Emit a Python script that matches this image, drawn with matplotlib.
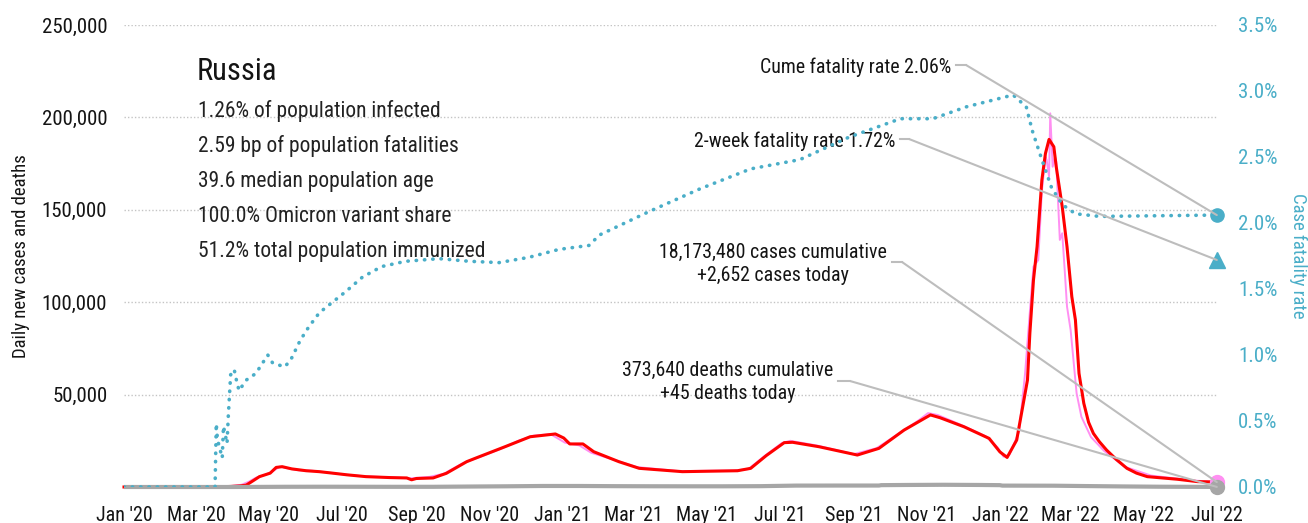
import matplotlib
matplotlib.use("Agg")
import matplotlib.pyplot as plt
import matplotlib.dates as mdates
from matplotlib.patches import ConnectionPatch
from matplotlib.ticker import FuncFormatter, FixedLocator
import pandas as pd

FONT = ['Roboto Condensed', 'Liberation Sans Narrow', 'DejaVu Sans']
plt.rcParams['font.family'] = FONT

# ---- data ---------------------------------------------------------------
avg_dates = ["2020-01-01", "2020-03-15", "2020-03-30", "2020-04-07", "2020-04-12", "2020-04-18",
             "2020-04-23", "2020-05-02", "2020-05-07", "2020-05-12", "2020-05-20", "2020-06-01",
             "2020-06-12", "2020-06-23", "2020-07-05", "2020-07-21", "2020-08-10", "2020-08-24",
             "2020-08-28", "2020-09-01", "2020-09-15", "2020-09-26", "2020-10-13", "2020-10-20",
             "2020-11-14", "2020-12-05", "2020-12-26", "2021-01-02", "2021-01-07", "2021-01-18",
             "2021-01-27", "2021-02-17", "2021-03-06", "2021-04-11", "2021-05-27", "2021-06-07",
             "2021-06-20", "2021-07-05", "2021-07-12", "2021-08-03", "2021-09-04", "2021-09-22",
             "2021-10-13", "2021-11-04", "2021-11-12", "2021-12-02", "2021-12-23", "2022-01-01",
             "2022-01-07", "2022-01-15", "2022-01-21", "2022-01-24", "2022-01-26", "2022-01-29",
             "2022-02-01", "2022-02-05", "2022-02-08", "2022-02-11", "2022-02-15", "2022-02-17",
             "2022-02-22", "2022-02-26", "2022-03-02", "2022-03-05", "2022-03-08", "2022-03-12",
             "2022-03-16", "2022-03-20", "2022-03-25", "2022-03-31", "2022-04-08", "2022-04-17",
             "2022-04-25", "2022-05-04", "2022-05-29", "2022-06-15", "2022-07-01"]
avg_cases = [0, 0, 300, 600, 1000, 3500,
             5600, 7500, 10600, 11000, 9800, 8800,
             8300, 7500, 6600, 5600, 5100, 4900,
             3900, 4600, 4900, 7400, 13700, 15500,
             21800, 27200, 28700, 26500, 23300, 23300,
             19100, 13700, 10100, 8300, 8800, 10100,
             17000, 24000, 24200, 21800, 17300, 20900,
             30800, 39000, 37500, 32600, 26300, 19000,
             16000, 25400, 47000, 57900, 83300, 112000,
             130000, 166100, 180500, 188100, 184100, 173300,
             151700, 130000, 103000, 90400, 61500, 45300,
             35000, 29000, 24500, 20000, 15000, 10100,
             7500, 5600, 4200, 2900, 2700]

daily_dates = ["2020-01-01", "2020-03-15", "2020-03-30", "2020-04-08", "2020-04-14", "2020-04-20",
               "2020-04-28", "2020-05-04", "2020-05-10", "2020-05-16", "2020-05-26", "2020-06-06",
               "2020-06-20", "2020-07-03", "2020-07-20", "2020-08-10", "2020-08-27", "2020-09-12",
               "2020-09-24", "2020-10-10", "2020-10-25", "2020-11-10", "2020-11-25", "2020-12-08",
               "2020-12-22", "2021-01-03", "2021-01-15", "2021-01-25", "2021-02-14", "2021-03-04",
               "2021-04-08", "2021-05-24", "2021-06-05", "2021-06-18", "2021-07-03", "2021-07-10",
               "2021-08-01", "2021-09-01", "2021-09-20", "2021-10-10", "2021-10-25", "2021-11-02",
               "2021-11-10", "2021-11-30", "2021-12-20", "2021-12-30", "2022-01-04", "2022-01-09",
               "2022-01-17", "2022-01-22", "2022-01-26", "2022-01-29", "2022-02-02", "2022-02-05",
               "2022-02-08", "2022-02-09", "2022-02-11", "2022-02-12", "2022-02-14", "2022-02-16",
               "2022-02-17", "2022-02-20", "2022-02-22", "2022-02-24", "2022-02-26", "2022-03-01",
               "2022-03-06", "2022-03-10", "2022-03-18", "2022-03-29", "2022-04-15", "2022-05-07",
               "2022-06-10", "2022-07-01"]
daily_cases = [0, 0, 500, 1200, 2800, 5000,
               6600, 8500, 11000, 10200, 9000, 8800,
               7800, 6700, 5800, 5200, 4700, 5500,
               7200, 13000, 16500, 20500, 25000, 27800,
               28600, 24000, 22500, 18500, 14500, 10800,
               8600, 8900, 9700, 16500, 23800, 25000,
               22500, 17800, 21000, 29500, 36000, 40000,
               39000, 33500, 27500, 21500, 16400, 17500,
               30000, 61500, 95000, 119200, 122800, 160000,
               178700, 176900, 168000, 202200, 173300, 178700,
               176000, 133700, 137300, 118000, 97600, 85000,
               50700, 38000, 27000, 19500, 11000, 6200,
               3600, 2652]

death_dates = ["2020-01-01", "2020-04-01", "2020-04-20", "2020-05-15", "2020-06-15", "2020-07-15",
               "2020-08-15", "2020-09-15", "2020-10-15", "2020-11-15", "2020-12-15", "2021-01-15",
               "2021-02-15", "2021-03-15", "2021-04-15", "2021-05-15", "2021-06-15", "2021-07-15",
               "2021-08-15", "2021-09-22", "2021-09-24", "2021-10-15", "2021-11-15", "2021-12-15",
               "2022-01-01", "2022-01-03", "2022-02-15", "2022-03-15", "2022-04-15", "2022-05-15",
               "2022-06-15", "2022-07-01"]
daily_deaths = [0, 5, 50, 120, 150, 130,
                100, 110, 250, 380, 550, 550,
                450, 400, 380, 380, 450, 760,
                780, 790, 1000, 1100, 1200, 1100,
                1000, 750, 700, 500, 300, 150,
                80, 45]

cfr_dates = ["2020-01-01", "2020-03-17", "2020-03-18", "2020-03-19", "2020-03-23", "2020-03-24",
             "2020-03-27", "2020-03-28", "2020-03-30", "2020-04-02", "2020-04-03", "2020-04-06",
             "2020-04-12", "2020-04-20", "2020-04-30", "2020-05-04", "2020-05-14", "2020-05-19",
             "2020-05-27", "2020-06-03", "2020-06-12", "2020-06-23", "2020-07-04", "2020-07-18",
             "2020-08-03", "2020-08-23", "2020-09-20", "2020-10-15", "2020-11-09", "2020-12-04",
             "2020-12-29", "2021-01-23", "2021-02-01", "2021-03-15", "2021-04-26", "2021-06-07",
             "2021-07-18", "2021-08-28", "2021-10-10", "2021-11-06", "2021-12-04", "2022-01-12",
             "2022-01-23", "2022-01-28", "2022-02-05", "2022-02-13", "2022-02-22", "2022-03-05",
             "2022-03-25", "2022-07-01"]
cfr_pct = [0.0, 0.0, 0.48, 0.36, 0.22, 0.46,
           0.33, 0.53, 0.85, 0.89, 0.84, 0.73,
           0.81, 0.86, 1.00, 0.94, 0.91, 0.96,
           1.11, 1.21, 1.32, 1.40, 1.48, 1.59,
           1.67, 1.71, 1.73, 1.71, 1.70, 1.74,
           1.80, 1.83, 1.91, 2.09, 2.26, 2.41,
           2.48, 2.65, 2.79, 2.79, 2.88, 2.97,
           2.88, 2.70, 2.48, 2.27, 2.14, 2.07,
           2.05, 2.06]

cume_cfr = 2.06
two_week_cfr = 1.72
cases_today = 2652
deaths_today = 45
cases_total = 18173480
deaths_total = 373640
last_day = "2022-07-01"

left_ticks = [50000, 100000, 150000, 200000, 250000]
right_ticks = [0.0, 0.5, 1.0, 1.5, 2.0, 2.5, 3.0, 3.5]

country = "Russia"
stats_lines = ["1.26% of population infected",
               "2.59 bp of population fatalities",
               "39.6 median population age",
               "100.0% Omicron variant share",
               "51.2% total population immunized"]

# ---- styling ------------------------------------------------------------
TEAL = '#4aaec8'
RED = '#ff0000'
PINK = '#ff8ff2'
GREY = '#a6a6a6'
LINE_GREY = '#bdbdbd'
GRID = '#c4c4c4'
INK = '#141414'

W, H = 1308, 523
fig = plt.figure(figsize=(W / 100, H / 100), dpi=100)
L, R, B, T = 124, 1218, 487, 25
ax = fig.add_axes([L / W, 1 - B / H, (R - L) / W, (B - T) / H])
ax2 = ax.twinx()

to_dt = pd.to_datetime
ax.set_xlim(to_dt("2020-01-01"), to_dt("2022-07-02"))
ax.set_ylim(0, 250000)
ax2.set_ylim(0, 3.5)

# horizontal grid
for v in [0] + left_ticks:
    ax.axhline(v, color=GRID, lw=1.0, ls=(0, (1, 1.5)), zorder=0)

# series
ax.plot(to_dt(daily_dates), daily_cases, color=PINK, lw=1.4, zorder=3, clip_on=False)
ax.plot(to_dt(avg_dates), avg_cases, color=RED, lw=2.2, zorder=4, clip_on=False)
ax.plot(to_dt(death_dates), daily_deaths, color=GREY, lw=3.0, zorder=5, clip_on=False,
        solid_capstyle='butt')
ax2.plot(to_dt(cfr_dates), cfr_pct, color=TEAL, lw=2.6, ls=(0, (0.1, 2.2)),
         dash_capstyle='round', zorder=3)

# end-of-series markers
end = to_dt(last_day)
ax.plot([end], [cases_today], 'o', ms=10, color=PINK, zorder=6, clip_on=False)
ax.plot([end], [deaths_today], 'o', ms=10, color=GREY, zorder=7, clip_on=False)
ax2.plot([end], [cume_cfr], 'o', ms=9.5, color=TEAL, zorder=6, clip_on=False)
ax2.plot([end], [two_week_cfr], '^', ms=11, color=TEAL, zorder=6, clip_on=False)

# axes cosmetics
for a in (ax, ax2):
    for s in a.spines.values():
        s.set_visible(False)
ax.xaxis.set_major_locator(mdates.MonthLocator(bymonth=[1, 3, 5, 7, 9, 11]))
ax.xaxis.set_major_formatter(mdates.DateFormatter("%b '%y"))
ax.tick_params(axis='x', length=0, pad=14, labelsize=14.5, labelcolor=INK)
ax.yaxis.set_major_locator(FixedLocator(left_ticks))
ax.yaxis.set_major_formatter(FuncFormatter(lambda v, p: f"{int(v):,}"))
ax.tick_params(axis='y', length=0, pad=12, labelsize=15, labelcolor=INK)
ax2.yaxis.set_major_locator(FixedLocator(right_ticks))
ax2.yaxis.set_major_formatter(FuncFormatter(lambda v, p: f"{v:.1f}%"))
ax2.tick_params(axis='y', length=0, pad=14.5, labelsize=15, labelcolor=TEAL)

ax.set_ylabel("Daily new cases and deaths", fontsize=13.5, color=INK)
ax.yaxis.set_label_coords(-0.086, 0.5)
ax2.set_ylabel("Case fatality rate", fontsize=13.5, color=TEAL, rotation=270,
               va='center', ha='center')
ax2.yaxis.set_label_coords(1.0731, 0.5)


def fx(px):
    return (px - L) / (R - L)


def fy(py):
    return (B - py) / (B - T)


# header block
ax.text(fx(197), fy(72), country, transform=ax.transAxes, fontsize=22,
        ha='left', va='center', color=INK, zorder=10)
for i, line in enumerate(stats_lines):
    ax.text(fx(198), fy(111 + 35 * i), line, transform=ax.transAxes, fontsize=15.5,
            ha='left', va='center', color='#222222', zorder=10)


# callouts: label, short horizontal tick, then a leader to the end marker
def callout(text, tx, ty, ha, elbow, target, target_ax):
    ax.text(fx(tx), fy(ty), text, transform=ax.transAxes, fontsize=14.3,
            ha=ha, va='center', multialignment='center',
            color=INK, linespacing=1.3, zorder=10)
    (x0, y0), (x1, y1) = elbow
    ax.plot([fx(x0), fx(x1)], [fy(y0), fy(y1)], transform=ax.transAxes,
            color=LINE_GREY, lw=1.5, zorder=2, clip_on=False)
    con = ConnectionPatch(xyA=(fx(x1), fy(y1)), coordsA=ax.transAxes,
                          xyB=target, coordsB=target_ax.transData,
                          color=LINE_GREY, lw=1.5, zorder=2)
    fig.add_artist(con)


end_num = mdates.date2num(end)
callout(f"Cume fatality rate {cume_cfr:.2f}%", 951, 67, 'right',
        ((956, 65), (966, 65)), (end_num, cume_cfr), ax2)
callout(f"2-week fatality rate {two_week_cfr:.2f}%", 895, 141, 'right',
        ((900, 139), (909, 139)), (end_num, two_week_cfr), ax2)
callout(f"{cases_total:,} cases cumulative\n+{cases_today:,} cases today", 773, 264, 'center',
        ((892, 262), (902, 262)), (end_num, cases_today), ax)
callout(f"{deaths_total:,} deaths cumulative\n+{deaths_today} deaths today", 728, 382, 'center',
        ((838, 381), (850, 381)), (end_num, deaths_today), ax)

fig.savefig("out.png", dpi=100)
